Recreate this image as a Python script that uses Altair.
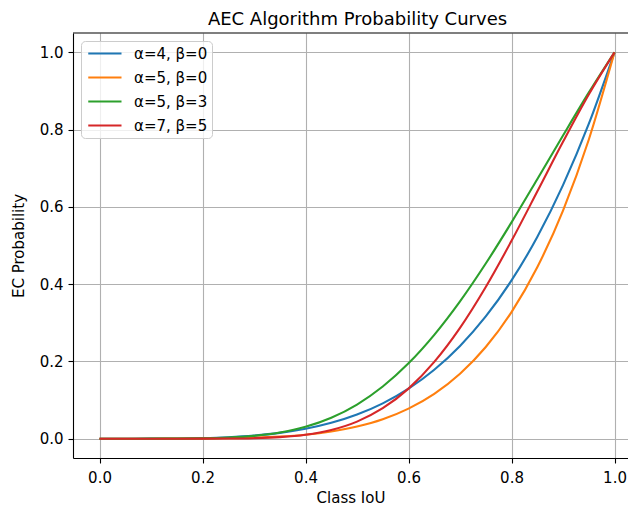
import altair as alt
import pandas as pd

# Class IoU sample positions
iou = [0.0, 0.05, 0.1, 0.15, 0.2, 0.25, 0.3, 0.35, 0.4, 0.45, 0.5,
       0.55, 0.6, 0.65, 0.7, 0.75, 0.8, 0.85, 0.9, 0.95, 1.0]

# EC probability
a4_b0 = [0.0, 0.00001, 0.0001, 0.0005, 0.0016, 0.0039, 0.0081, 0.0150, 0.0256, 0.0410, 0.0625,
         0.0915, 0.1296, 0.1785, 0.2401, 0.3164, 0.4096, 0.5220, 0.6561, 0.8145, 1.0]
a5_b0 = [0.0, 0.0, 0.00001, 0.00008, 0.0003, 0.0010, 0.0024, 0.0053, 0.0102, 0.0185, 0.0313,
         0.0503, 0.0778, 0.1160, 0.1681, 0.2373, 0.3277, 0.4437, 0.5905, 0.7738, 1.0]
a5_b3 = [0.0, 0.0, 0.00002, 0.0002, 0.0008, 0.0028, 0.0072, 0.0158, 0.0307, 0.0542, 0.0884,
         0.1350, 0.1950, 0.2688, 0.3554, 0.4533, 0.5598, 0.6716, 0.7847, 0.8956, 1.0]
a7_b5 = [0.0, 0.0, 0.0, 0.00001, 0.00006, 0.0003, 0.0013, 0.0040, 0.0102, 0.0225, 0.0442,
         0.0788, 0.1296, 0.1988, 0.2869, 0.3926, 0.5120, 0.6396, 0.7684, 0.8910, 1.0]

series_names = ["α=4, β=0", "α=5, β=0", "α=5, β=3", "α=7, β=5"]
series_values = [a4_b0, a5_b0, a5_b3, a7_b5]
colors = ["#1f77b4", "#ff7f0e", "#2ca02c", "#d62728"]
ticks = [0.0, 0.2, 0.4, 0.6, 0.8, 1.0]

rows = []
for name, vals in zip(series_names, series_values):
    for x, y in zip(iou, vals):
        rows.append({"iou": x, "p": y, "series": name})
df = pd.DataFrame(rows)

W, H = 555, 425
FONT = "DejaVu Sans"

lines = alt.Chart(df).mark_line(strokeWidth=2.1, interpolate="monotone").encode(
    x=alt.X("iou:Q", title="Class IoU",
            scale=alt.Scale(domain=[-0.0515, 1.0262], nice=False, zero=False),
            axis=alt.Axis(values=ticks, format=".1f", labelPadding=7, titlePadding=5)),
    y=alt.Y("p:Q", title="EC Probability",
            scale=alt.Scale(domain=[-0.05, 1.05], nice=False, zero=False),
            axis=alt.Axis(values=ticks, format=".1f", labelPadding=5, titlePadding=13)),
    color=alt.Color("series:N", sort=series_names,
                    scale=alt.Scale(domain=series_names, range=colors),
                    legend=alt.Legend(title=None, orient="none", legendX=8, legendY=8,
                                      symbolType="M-0.75,0H4", symbolSize=196,
                                      symbolStrokeWidth=2.1, labelFontSize=15,
                                      labelFont=FONT, labelColor="black",
                                      labelOffset=32, rowPadding=7, padding=4,
                                      fillColor="rgba(255,255,255,0.8)",
                                      strokeColor="#cccccc", cornerRadius=4)),
)

top_spine = alt.Chart(pd.DataFrame({"k": [0]})).mark_rule(color="black", strokeWidth=1.1).encode(
    x=alt.value(0), x2=alt.value(W), y=alt.value(0)
)

chart = alt.layer(lines, top_spine).properties(
    width=W, height=H,
    title=alt.TitleParams("AEC Algorithm Probability Curves", fontSize=18,
                          fontWeight="normal", font=FONT, color="black",
                          anchor="middle", dx=7, offset=6, dy=3),
    autosize=alt.AutoSizeParams(type="none"),
    padding={"left": 65, "top": 25, "right": 0, "bottom": 52},
).configure_view(stroke=None).configure_axis(
    domainColor="black", domainWidth=1.1, tickColor="black", tickWidth=1.1, tickSize=5,
    labelFont=FONT, labelFontSize=15, labelColor="black",
    titleFont=FONT, titleFontSize=15, titleFontWeight="normal", titleColor="black",
    gridColor="#b0b0b0", gridWidth=1.1,
)

chart.save("out.html", embed_options={"renderer": "svg", "actions": False})
